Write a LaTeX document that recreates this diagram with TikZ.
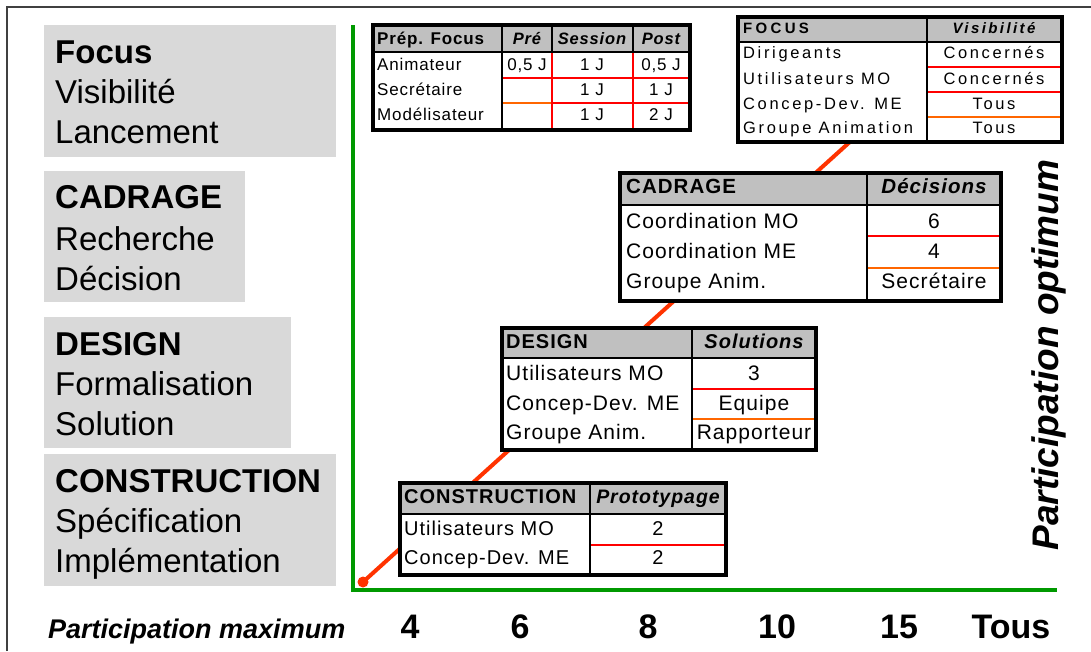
\documentclass[tikz,border=0pt]{standalone}
\usepackage{fontspec}
\setmainfont{Liberation Sans}
\newfontfamily\spa[LetterSpace=5]{Liberation Sans}
\newfontfamily\spb[LetterSpace=16]{Liberation Sans}
\newfontfamily\spc[LetterSpace=22]{Liberation Sans}
\definecolor{boxgray}{RGB}{217,217,217}
\definecolor{hdrgray}{RGB}{192,192,192}
\definecolor{axgreen}{RGB}{0,153,0}
\definecolor{connred}{RGB}{255,51,0}
\definecolor{linered}{RGB}{255,0,0}
\definecolor{lineorange}{RGB}{255,102,0}
\tikzset{
  phase/.style={anchor=base west, inner sep=0pt, font=\fontsize{33}{38}\selectfont},
  phaseb/.style={anchor=base west, inner sep=0pt, font=\fontsize{33}{38}\selectfont\bfseries},
  axnum/.style={anchor=base, inner sep=0pt, font=\fontsize{34}{40}\selectfont\bfseries},
  hdrfill/.style={fill=hdrgray},
  redl/.style={draw=linered, line width=2pt},
  orl/.style={draw=lineorange, line width=2pt},
  divl/.style={draw=black, line width=2.5pt},
  tborder/.style={draw=black, line width=3.5pt},
  lt/.style={anchor=base west, inner sep=0pt},
  ct/.style={anchor=base, inner sep=0pt},
}
\begin{document}
\begin{tikzpicture}[x=1pt,y=-1pt]
\useasboundingbox (0,0) rectangle (1091,651);
\fill[white] (0,0) rectangle (1091,651);
% frame
\draw[line width=1.5pt, black!75] (7,651) -- (7,7) -- (1091,7);

% left phase boxes
\fill[boxgray] (44,25) rectangle (336,157);
\fill[boxgray] (44,171) rectangle (245,302);
\fill[boxgray] (44,317) rectangle (291,448);
\fill[boxgray] (44,454) rectangle (336,586);
\node[phaseb] (pf1) at (55,63) {Focus};
\node[phase]  (pf2) at (55,103) {Visibilité};
\node[phase]  (pf3) at (55,143) {Lancement};
\node[phaseb] (pc1) at (55,208) {CADRAGE};
\node[phase]  (pc2) at (55,250) {Recherche};
\node[phase]  (pc3) at (55,290) {Décision};
\node[phaseb] (pd1) at (55,355) {DESIGN};
\node[phase]  (pd2) at (55,395) {Formalisation};
\node[phase]  (pd3) at (55,435) {Solution};
\node[phaseb] (pk1) at (55,492) {CONSTRUCTION};
\node[phase]  (pk2) at (55,532) {Spécification};
\node[phase]  (pk3) at (55,572) {Implémentation};

% axes
\draw[axgreen, line width=4pt] (353,25) -- (353,590) -- (1057,590);

% connector line (behind tables)
\coordinate (cstart) at (363,582);
\coordinate (cend) at (852,140);
\draw[connred, line width=4pt] (cstart) -- (cend);
\fill[connred] (cstart) circle[radius=5.5pt];

% ---------- Table Prep. Focus ----------
\fill[white] (373,25) rectangle (690,130);
\fill[hdrfill] (373,25) rectangle (690,52);
\draw[redl] (502,78) -- (690,78);
\draw[orl] (502,103) -- (552,103);
\draw[redl] (552,103) -- (690,103);
\draw[redl] (552,52) -- (552,130);
\draw[redl] (633,52) -- (633,130);
\draw[divl] (552,25) -- (552,52);
\draw[divl] (633,25) -- (633,52);
\draw[divl] (502,25) -- (502,130);
\draw[divl] (373,52) -- (690,52);
\draw[tborder] (373,25) rectangle (690,130);
\begin{scope}[every node/.append style={font=\fontsize{17}{20}\spa}]
\node[lt, font=\fontsize{17}{20}\spa\bfseries] (a0) at (377,44) {Prép. Focus};
\node[ct, font=\fontsize{16.5}{20}\spa\bfseries\itshape] (a1) at (527,44) {Pré};
\node[ct, font=\fontsize{16.5}{20}\spa\bfseries\itshape] (a2) at (592,44) {Session};
\node[ct, font=\fontsize{16.5}{20}\spa\bfseries\itshape] (a3) at (661,44) {Post};
\node[lt] (a10) at (377,70) {Animateur};
\node[ct] (a11) at (527,70) {0,5 J};
\node[ct] (a12) at (592,70) {1 J};
\node[ct] (a13) at (661,70) {0,5 J};
\node[lt] (a20) at (377,95) {Secrétaire};
\node[ct] (a22) at (592,95) {1 J};
\node[ct] (a23) at (661,95) {1 J};
\node[lt] (a30) at (377,120) {Modélisateur};
\node[ct] (a32) at (592,120) {1 J};
\node[ct] (a33) at (661,120) {2 J};
\end{scope}

% ---------- Table FOCUS ----------
\fill[white] (738,17) rectangle (1062,142);
\fill[hdrfill] (738,17) rectangle (1062,42);
\draw[redl] (927,67) -- (1062,67);
\draw[redl] (927,92) -- (1062,92);
\draw[orl] (927,117) -- (1062,117);
\draw[divl] (927,17) -- (927,142);
\draw[divl] (738,42) -- (1062,42);
\draw[tborder] (738,17) rectangle (1062,142);
\begin{scope}[every node/.append style={font=\fontsize{16.5}{20}\spb}]
\node[lt, font=\fontsize{15}{20}\spc\bfseries] (b0) at (743,33) {FOCUS};
\node[ct, font=\fontsize{15}{20}\spb\bfseries\itshape] (b1) at (994,33) {Visibilité};
\node[lt] (b10) at (743,58) {Dirigeants};
\node[ct] (b11) at (994,58) {Concernés};
\node[lt] (b20) at (743,84) {Utilisateurs MO};
\node[ct] (b21) at (994,84) {Concernés};
\node[lt] (b30) at (743,109) {Concep-Dev. ME};
\node[ct] (b31) at (994,109) {Tous};
\node[lt] (b40) at (743,133) {Groupe Animation};
\node[ct] (b41) at (994,133) {Tous};
\end{scope}

% ---------- Table CADRAGE ----------
\fill[white] (620,173) rectangle (1001,301);
\fill[hdrfill] (620,173) rectangle (1001,205);
\draw[redl] (867,236) -- (1001,236);
\draw[orl] (867,268) -- (1001,268);
\draw[divl] (867,173) -- (867,301);
\draw[divl] (620,205) -- (1001,205);
\draw[tborder] (620,173) rectangle (1001,301);
\begin{scope}[every node/.append style={font=\fontsize{21}{24}\spa}]
\node[lt, font=\fontsize{20.5}{24}\spa\bfseries] (c0) at (626,193) {CADRAGE};
\node[ct, font=\fontsize{20.5}{24}\spa\bfseries\itshape] (c1) at (934,193) {Décisions};
\node[lt] (c10) at (626,228) {Coordination MO};
\node[ct] (c11) at (934,228) {6};
\node[lt] (c20) at (626,258) {Coordination ME};
\node[ct] (c21) at (934,258) {4};
\node[lt] (c30) at (626,288) {Groupe Anim.};
\node[ct] (c31) at (934,288) {Secrétaire};
\end{scope}

% ---------- Table DESIGN ----------
\fill[white] (502,328) rectangle (816,450);
\fill[hdrfill] (502,328) rectangle (816,358);
\draw[redl] (692,389) -- (816,389);
\draw[orl] (692,419) -- (816,419);
\draw[divl] (692,328) -- (692,450);
\draw[divl] (502,358) -- (816,358);
\draw[tborder] (502,328) rectangle (816,450);
\begin{scope}[every node/.append style={font=\fontsize{21}{24}\spa}]
\node[lt, font=\fontsize{20}{24}\spa\bfseries] (d0) at (506,348) {DESIGN};
\node[ct, font=\fontsize{20}{24}\spa\bfseries\itshape] (d1) at (754,348) {Solutions};
\node[lt] (d10) at (506,380) {Utilisateurs MO};
\node[ct] (d11) at (754,380) {3};
\node[lt] (d20) at (506,410) {Concep-Dev. ME};
\node[ct] (d21) at (754,410) {Equipe};
\node[lt] (d30) at (506,439) {Groupe Anim.};
\node[ct] (d31) at (754,439) {Rapporteur};
\end{scope}

% ---------- Table CONSTRUCTION ----------
\fill[white] (400,483) rectangle (726,575);
\fill[hdrfill] (400,483) rectangle (726,514);
\draw[redl] (590,545) -- (726,545);
\draw[divl] (590,483) -- (590,575);
\draw[divl] (400,514) -- (726,514);
\draw[tborder] (400,483) rectangle (726,575);
\begin{scope}[every node/.append style={font=\fontsize{20}{24}\spa}]
\node[lt, font=\fontsize{20}{24}\spa\bfseries] (e0) at (404,503) {CONSTRUCTION};
\node[ct, font=\fontsize{19.5}{24}\spa\bfseries\itshape] (e1) at (658,503) {Prototypage};
\node[lt] (e10) at (404,535) {Utilisateurs MO};
\node[ct] (e11) at (658,535) {2};
\node[lt] (e20) at (404,564) {Concep-Dev. ME};
\node[ct] (e21) at (658,564) {2};
\end{scope}

% axis labels
\node[anchor=base west, inner sep=0pt, font=\fontsize{27}{32}\selectfont\bfseries\itshape] (pmax) at (48,638) {Participation maximum};
\node[axnum] (x4) at (410,638) {4};
\node[axnum] (x6) at (520,638) {6};
\node[axnum] (x8) at (648,638) {8};
\node[axnum] (x10) at (777,638) {10};
\node[axnum] (x15) at (899,638) {15};
\node[axnum] (xt) at (1011,638) {Tous};
\node[rotate=90, inner sep=0pt, font=\fontsize{37}{42}\selectfont\bfseries\itshape] (popt) at (1049,355) {Participation optimum};
\end{tikzpicture}
\end{document}
